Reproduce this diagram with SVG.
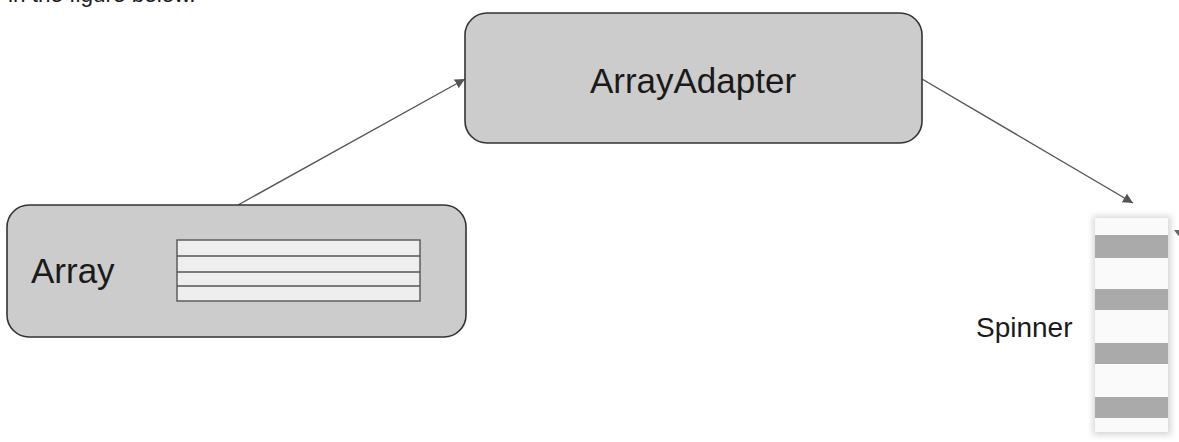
<svg xmlns="http://www.w3.org/2000/svg" width="1179" height="442" viewBox="0 0 1179 442">
<style>
.box{fill:#cccccc;stroke:#333333;stroke-width:1.6}
.lbl{font-family:"Liberation Sans",Arial,sans-serif;fill:#1a1a1a}
.conn{stroke:#555555;stroke-width:1.4;fill:none}
.cell{fill:#eeeeee;stroke:#555555;stroke-width:1.4}
.stripe{fill:#aaaaaa}
</style>
<defs>
<marker id="ah" viewBox="0 0 10 10" refX="10" refY="5" markerWidth="10" markerHeight="10" markerUnits="userSpaceOnUse" orient="auto">
<path d="M0,0 L10,5 L0,10 z" fill="#555555"/>
</marker>
<filter id="sh" x="-30%" y="-10%" width="160%" height="120%">
<feGaussianBlur stdDeviation="3"/>
</filter>
</defs>
<text class="lbl" x="8" y="2" font-size="22.5">in the figure below.</text>
<g id="connectors">
<line class="conn" x1="238" y1="205" x2="465" y2="79" marker-end="url(#ah)"/>
<line class="conn" x1="922" y1="79" x2="1133" y2="203" marker-end="url(#ah)"/>
</g>
<g id="array">
<rect class="box" x="7" y="205" width="459" height="132" rx="22"/>
<text class="lbl" x="31" y="283" font-size="35">Array</text>
<rect class="cell" x="177" y="240" width="243" height="61"/>
<line class="cell" x1="177" y1="256" x2="420" y2="256"/>
<line class="cell" x1="177" y1="272" x2="420" y2="272"/>
<line class="cell" x1="177" y1="286" x2="420" y2="286"/>
</g>
<g id="arrayadapter">
<rect class="box" x="465" y="13" width="457" height="130" rx="22"/>
<text class="lbl" x="693" y="93" font-size="35" text-anchor="middle">ArrayAdapter</text>
</g>
<g id="spinner">
<rect x="1093" y="216" width="78" height="219" fill="#d6d6d6" filter="url(#sh)"/>
<rect x="1095" y="218" width="73" height="214" fill="#fafafa"/>
<rect class="stripe" x="1095" y="235" width="73" height="23"/>
<rect class="stripe" x="1095" y="289" width="73" height="21"/>
<rect class="stripe" x="1095" y="343" width="73" height="21"/>
<rect class="stripe" x="1095" y="397" width="73" height="21"/>
<polygon points="1174,230 1183,230 1178.5,236" fill="#666666"/>
<text class="lbl" x="976" y="337" font-size="28">Spinner</text>
</g>
</svg>
